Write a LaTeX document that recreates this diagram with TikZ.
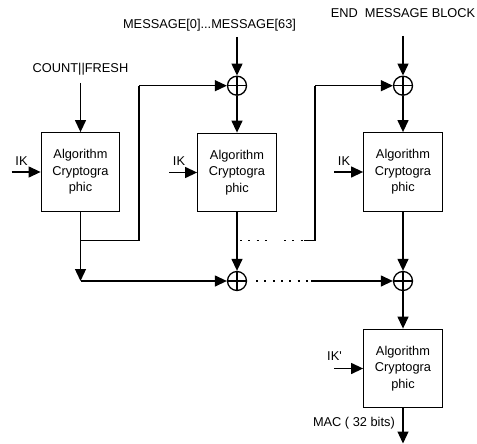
\documentclass[tikz,border=0pt]{standalone}
\usepackage{fontspec}
\setmainfont{Liberation Sans}
\usetikzlibrary{arrows.meta}
\begin{document}
\begin{tikzpicture}[x=1pt,y=-1pt,
  lw/.style={line width=1.3pt},
  arr/.style={lw,-{Triangle[length=12pt,width=11pt]}},
  algbox/.style={draw,lw,minimum width=78.5pt,minimum height=78.5pt,inner sep=0pt,align=center,font=\fontsize{12.8pt}{16.5pt}\selectfont},
  xor/.style={draw,lw,circle,minimum size=19pt,inner sep=0pt,path picture={\draw[lw] (path picture bounding box.north) -- (path picture bounding box.south) (path picture bounding box.west) -- (path picture bounding box.east);}},
  lbl/.style={font=\fontsize{12.8pt}{15pt}\selectfont,inner sep=0pt},
  dots/.style={line width=1.5pt,dash pattern=on 2pt off 6.3pt}
]
\useasboundingbox (0,0) rectangle (477,444);

% boxes
\node[algbox] (b1) at (80.5,172) {Algorithm\\Cryptogra\\phic};
\node[algbox] (b2) at (237,172.5) {Algorithm\\Cryptogra\\phic};
\node[algbox] (b3) at (403,172) {Algorithm\\Cryptogra\\phic};
\node[algbox] (b4) at (403,368.5) {Algorithm\\Cryptogra\\phic};

% xors
\node[xor] (x1) at (237,85.7) {};
\node[xor] (x2) at (403,85.7) {};
\node[xor] (x3) at (237,281) {};
\node[xor] (x4) at (403,281) {};

% labels
\node[lbl] (cf) at (80.5,69) {COUNT||FRESH};
\node[lbl] (msg) at (209.5,25) {MESSAGE[0]...MESSAGE[63]};
\node[lbl] (emb) at (403,13) {END~~MESSAGE BLOCK};
\node[lbl] (ik1) at (21.5,161) {IK};
\node[lbl] (ik2) at (179,161) {IK};
\node[lbl] (ik3) at (344,161) {IK};
\node[lbl] (ik4) at (334.5,356) {IK\textquotesingle};
\node[lbl,anchor=east] (mac) at (395,423) {MAC ( 32 bits)};

% coordinates
\coordinate (cfs) at (80.5,83);
\coordinate (msgs) at (237,37);
\coordinate (embs) at (403,36);
\coordinate (i1) at (11.5,172);
\coordinate (i2) at (169,172.5);
\coordinate (i3) at (334,172);
\coordinate (i4) at (334,368.5);
\coordinate (j1) at (80.5,281);
\coordinate (br1) at (80.5,240.7);
\coordinate (fb1a) at (139,240.7);
\coordinate (fb1b) at (139,85.7);
\coordinate (br2) at (237,240.7);
\coordinate (d1a) at (240,240.7);
\coordinate (d1b) at (270,240.7);
\coordinate (d2a) at (284,240.7);
\coordinate (d2b) at (304,240.7);
\coordinate (fb2a) at (315,240.7);
\coordinate (fb2b) at (315,85.7);
\coordinate (d3b) at (311,281);
\coordinate (out) at (403,443.5);

% inputs
\draw[arr] (cfs) -- (b1.north);
\draw[arr] (msgs) -- (x1.north);
\draw[arr] (embs) -- (x2.north);
\draw[arr] (i1) -- (b1.west);
\draw[arr] (i2) -- (b2.west);
\draw[arr] (i3) -- (b3.west);
\draw[arr] (i4) -- (b4.west);

% chain
\draw[arr] (x1.south) -- (b2.north);
\draw[arr] (x2.south) -- (b3.north);
\draw[arr] (b1.south) -- (j1);
\draw[arr] (j1) -- (x3.west);
\draw[lw] (br1) -- (fb1a) -- (fb1b);
\draw[arr] (fb1b) -- (x1.west);
\draw[arr] (b2.south) -- (x3.north);
\draw[dots] (d1a) -- (d1b);
\draw[dots] (d2a) -- (d2b);
\draw[lw] (d2b) -- (fb2a) -- (fb2b);
\draw[arr] (fb2b) -- (x2.west);
\draw[dots] (x3.east) ++(9pt,0) -- (d3b);
\draw[arr] (d3b) -- (x4.west);
\draw[arr] (b3.south) -- (x4.north);
\draw[arr] (x4.south) -- (b4.north);
\draw[arr] (b4.south) -- (out);
\end{tikzpicture}
\end{document}
